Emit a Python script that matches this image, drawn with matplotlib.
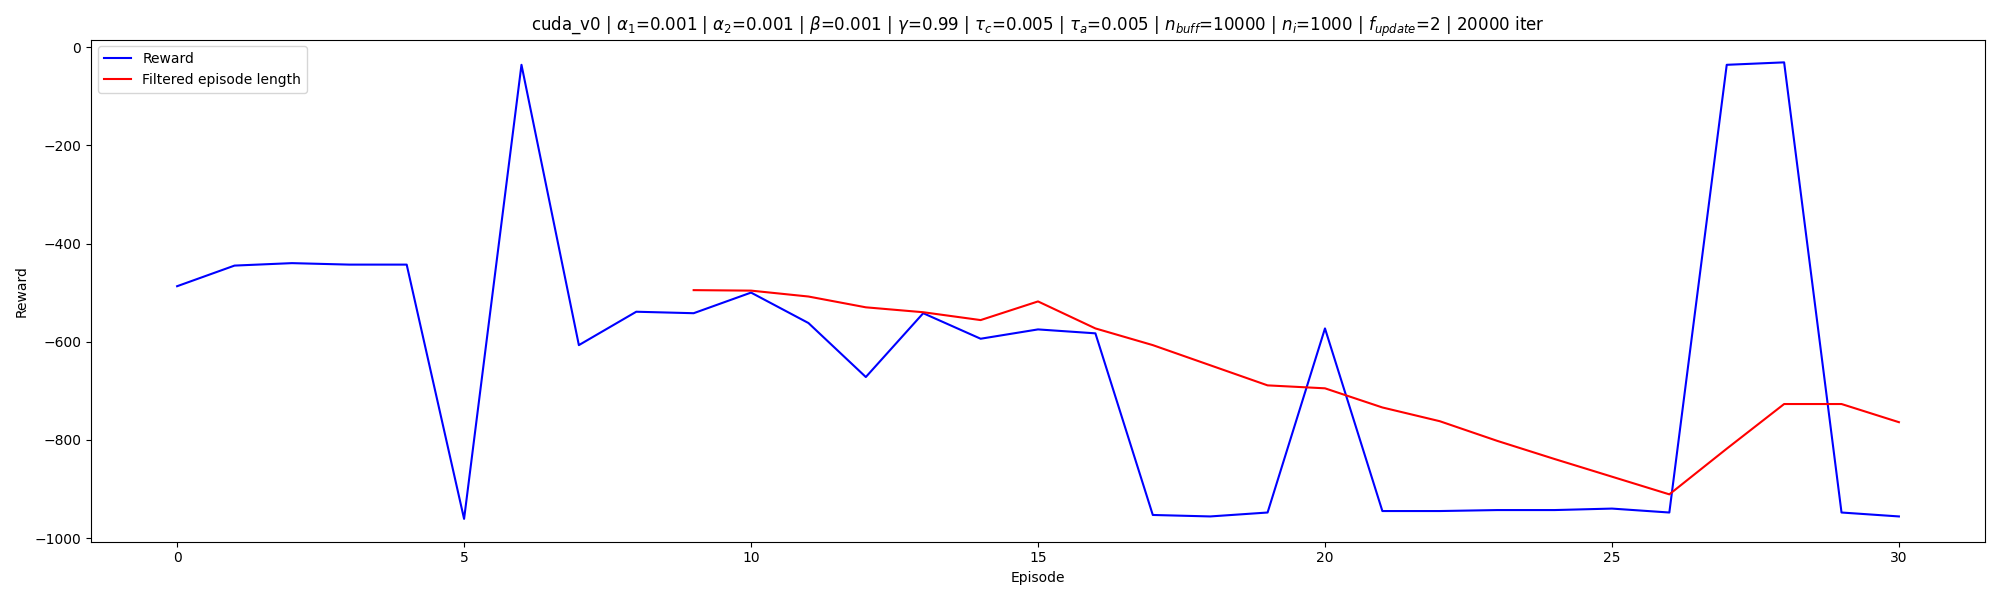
import matplotlib
matplotlib.use('Agg')
import matplotlib.pyplot as plt

# Episode rewards
episodes = list(range(31))
reward = [-487, -445, -440, -443, -443, -961, -36, -607, -539, -542,
          -500, -562, -672, -542, -594, -575, -583, -953, -956, -948,
          -573, -945, -945, -943, -943, -940, -948, -36, -31, -948,
          -956]

# Filtered curve starts at episode 9
filtered_episodes = list(range(9, 31))
filtered = [-495, -496, -508, -530, -540, -556, -518, -573, -607, -648,
            -689, -695, -734, -762, -802, -839, -875, -911, -818, -727,
            -727, -764]

title = (r'cuda_v0 | $\alpha_1$=0.001 | $\alpha_2$=0.001 | $\beta$=0.001 | '
         r'$\gamma$=0.99 | $\tau_c$=0.005 | $\tau_a$=0.005 | '
         r'$n_{buff}$=10000 | $n_i$=1000 | $f_{update}$=2 | 20000 iter')

fig, ax = plt.subplots(figsize=(20, 6), dpi=100)
ax.plot(episodes, reward, color='blue', label='Reward')
ax.plot(filtered_episodes, filtered, color='red', label='Filtered episode length')
ax.set_xlabel('Episode')
ax.set_ylabel('Reward')
ax.set_title(title)
ax.legend(loc='upper left')

fig.tight_layout()
fig.savefig('out.png')
